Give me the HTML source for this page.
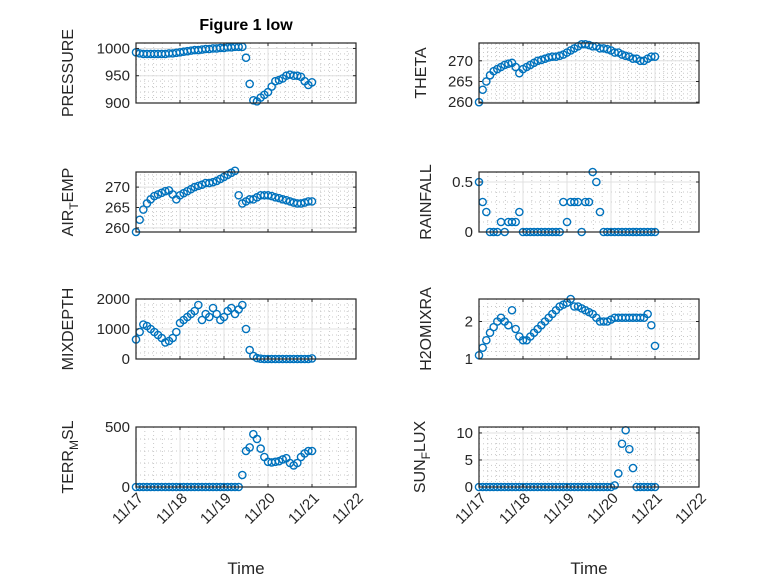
<!DOCTYPE html>
<html><head><meta charset="utf-8"><style>
html,body{margin:0;padding:0;background:#fff}
svg{display:block;font-family:"Liberation Sans","DejaVu Sans",sans-serif}
</style></head><body>
<svg id="fig" width="778" height="583" viewBox="0 0 778 583"></svg>
<script>
// time in days since 11/17 (2-hour steps)
const timeDays = Array.from({length:49},(_, i)=>i/12);
const xTickLabels = ["11/17","11/18","11/19","11/20","11/21","11/22"];
const pressure = [993,991,990,990,990,990,990,990,990,991,991,992,993,994,995,996,997,997,998,999,999,1000,1000,1001,1001,1002,1002,1003,1003,1003,983,935,905,903,910,915,920,930,940,942,945,950,952,950,950,948,940,933,938];
const theta = [260,263,265,266.5,267.5,268,268.5,269,269.3,269.5,268.5,267,268,268.5,269,269.5,270,270.2,270.5,270.8,271,271,271.2,271.5,272,272.5,273,273.5,274,274,273.8,273.5,273.5,273,273,272.8,272.5,272,272,271.5,271.2,271,270.5,270.5,270,270,270.5,271,271];
const airTemp = [259,262,264.5,266,267,267.8,268.2,268.6,269,269.2,268.2,267,268,268.5,269,269.5,270,270.3,270.6,271,271,271.2,271.5,272,272.5,273,273.5,274,268,266,266.5,267,267,267.5,268,268,268,267.8,267.5,267.3,267,266.8,266.5,266.2,266,266,266.2,266.5,266.5];
const rainfall = [0.5,0.3,0.2,0,0,0,0.1,0,0.1,0.1,0.1,0.2,0,0,0,0,0,0,0,0,0,0,0,0.3,0.1,0.3,0.3,0.3,0,0.3,0.3,0.6,0.5,0.2,0,0,0,0,0,0,0,0,0,0,0,0,0,0,0];
const mixDepth = [650,900,1150,1100,1000,900,800,700,550,600,700,900,1200,1300,1400,1500,1600,1800,1300,1500,1400,1700,1500,1300,1400,1600,1700,1500,1650,1800,1000,300,100,30,10,0,0,0,0,0,0,0,0,0,0,0,0,0,20];
const h2oMix = [1.1,1.3,1.5,1.7,1.85,2.0,2.1,2.0,1.9,2.3,1.8,1.6,1.5,1.5,1.6,1.7,1.8,1.9,2.0,2.1,2.2,2.3,2.4,2.45,2.5,2.6,2.4,2.4,2.35,2.3,2.25,2.2,2.1,2.0,2.0,2.0,2.05,2.1,2.1,2.1,2.1,2.1,2.1,2.1,2.1,2.1,2.2,1.9,1.35];
const terrMsl = [0,0,0,0,0,0,0,0,0,0,0,0,0,0,0,0,0,0,0,0,0,0,0,0,0,0,0,0,0,100,300,330,440,400,320,250,210,205,210,215,230,240,200,180,200,250,280,300,300];
const sunFlux = [0,0,0,0,0,0,0,0,0,0,0,0,0,0,0,0,0,0,0,0,0,0,0,0,0,0,0,0,0,0,0,0,0,0,0,0,0,0.3,2.5,8,10.5,7,3.5,0,0,0,0,0,0];

const NS="http://www.w3.org/2000/svg";
const svg=document.getElementById('fig');
function el(tag,attrs,parent){const e=document.createElementNS(NS,tag);for(const k in attrs)e.setAttribute(k,attrs[k]);(parent||svg).appendChild(e);return e;}

const panels=[
 {name:'pressure',label:'PRESSURE',data:pressure,x0:136,y0:43,lx:73,ylim:[900,1010],yt:[900,950,1000],yl:['900','950','1000']},
 {name:'theta',label:'THETA',data:theta,x0:479,y0:43,lx:426,ylim:[259.8,274.3],yt:[260,265,270],yl:['260','265','270']},
 {name:'air-temp',label:'AIR_TEMP',sub:['AIR','T','EMP'],data:airTemp,x0:136,y0:172,lx:73,ylim:[259,273.7],yt:[260,265,270],yl:['260','265','270']},
 {name:'rainfall',label:'RAINFALL',data:rainfall,x0:479,y0:172,lx:431,ylim:[0,0.6],yt:[0,0.5],yl:['0','0.5']},
 {name:'mixdepth',label:'MIXDEPTH',data:mixDepth,x0:136,y0:299,lx:73,ylim:[0,2000],yt:[0,1000,2000],yl:['0','1000','2000']},
 {name:'h2omixra',label:'H2OMIXRA',data:h2oMix,x0:479,y0:299,lx:431,ylim:[1,2.6],yt:[1,2],yl:['1','2']},
 {name:'terr-msl',label:'TERR_MSL',sub:['TERR','M','SL'],data:terrMsl,x0:136,y0:427,lx:73,ylim:[0,500],yt:[0,500],yl:['0','500']},
 {name:'sun-flux',label:'SUN_FLUX',sub:['SUN','F','LUX'],data:sunFlux,x0:479,y0:427,lx:425,ylim:[0,11.1],yt:[0,5,10],yl:['0','5','10']}
];
const W=220,H=60,xmax=5;
panels.forEach((p,pi)=>{
  const g=el('g',{});
  
  
  const xs=d=>p.x0+d/xmax*W;
  const ys=v=>p.y0+H-(v-p.ylim[0])/(p.ylim[1]-p.ylim[0])*H;
  for(let d=0;d<=xmax;d+=0.2){const x=xs(d);el('line',{x1:x,x2:x,y1:p.y0,y2:p.y0+H,stroke:'#c8c8c8','stroke-width':1,'stroke-dasharray':'1 3'},g);}
  const step=(p.yt[1]-p.yt[0])/5;
  for(let v=p.yt[0]-10*step;v<=p.ylim[1];v+=step){if(v<p.ylim[0]-1e-9)continue;const y=ys(v);el('line',{x1:p.x0,x2:p.x0+W,y1:y,y2:y,stroke:'#c8c8c8','stroke-width':1,'stroke-dasharray':'1 3'},g);}
  for(let d=0;d<=xmax;d++){const x=xs(d);el('line',{x1:x,x2:x,y1:p.y0,y2:p.y0+H,stroke:'#e0e0e0','stroke-width':1},g);}
  p.yt.forEach(v=>{const y=ys(v);el('line',{x1:p.x0,x2:p.x0+W,y1:y,y2:y,stroke:'#e0e0e0','stroke-width':1},g);});
  p.data.forEach((v,i)=>{
    const c=el('circle',{cx:xs(timeDays[i]),cy:ys(v),r:3.6,fill:'none',stroke:'#0072BD','stroke-width':1.4},g);
    
    
  });
  el('rect',{x:p.x0,y:p.y0,width:W,height:H,fill:'none',stroke:'#262626','stroke-width':1.2},g);
  for(let d=0;d<=xmax;d++){const x=xs(d);el('line',{x1:x,x2:x,y1:p.y0+H,y2:p.y0+H-3,stroke:'#262626'},g);el('line',{x1:x,x2:x,y1:p.y0,y2:p.y0+3,stroke:'#262626'},g);}
  p.yt.forEach((v,k)=>{const y=ys(v);el('line',{x1:p.x0,x2:p.x0+3,y1:y,y2:y,stroke:'#262626'},g);el('line',{x1:p.x0+W,x2:p.x0+W-3,y1:y,y2:y,stroke:'#262626'},g);
    const t=el('text',{x:p.x0-6,y:y+5,'text-anchor':'end','font-size':15,fill:'#262626'},g);t.textContent=p.yl[k];
    
    });
  const ly=p.y0+H/2;
  const yl=el('text',{x:0,y:0,transform:`translate(${p.lx},${ly}) rotate(-90)`,'text-anchor':'middle','font-size':16,fill:'#262626'},g);
  
  
  if(p.sub){const a=el('tspan',{},yl);a.textContent=p.sub[0];const b=el('tspan',{dy:5,'font-size':12},yl);b.textContent=p.sub[1];const c=el('tspan',{dy:-5},yl);c.textContent=p.sub[2];}
  else yl.textContent=p.label;
  if(pi>=6){
    for(let d=0;d<=xmax;d++){const x=xs(d);const t=el('text',{x:0,y:0,transform:`translate(${x+8},${p.y0+H+12}) rotate(-45)`,'text-anchor':'end','font-size':15,fill:'#262626'},g);t.textContent=xTickLabels[d];
      
      }
    const xt=el('text',{x:p.x0+W/2,y:574,'text-anchor':'middle','font-size':17,fill:'#262626'},g);xt.textContent='Time';
    
    
  }
});
const title=el('text',{x:246,y:30,'text-anchor':'middle','font-size':16,'font-weight':'bold',fill:'#000'});
title.textContent='Figure 1 low';


</script>
</body></html>
